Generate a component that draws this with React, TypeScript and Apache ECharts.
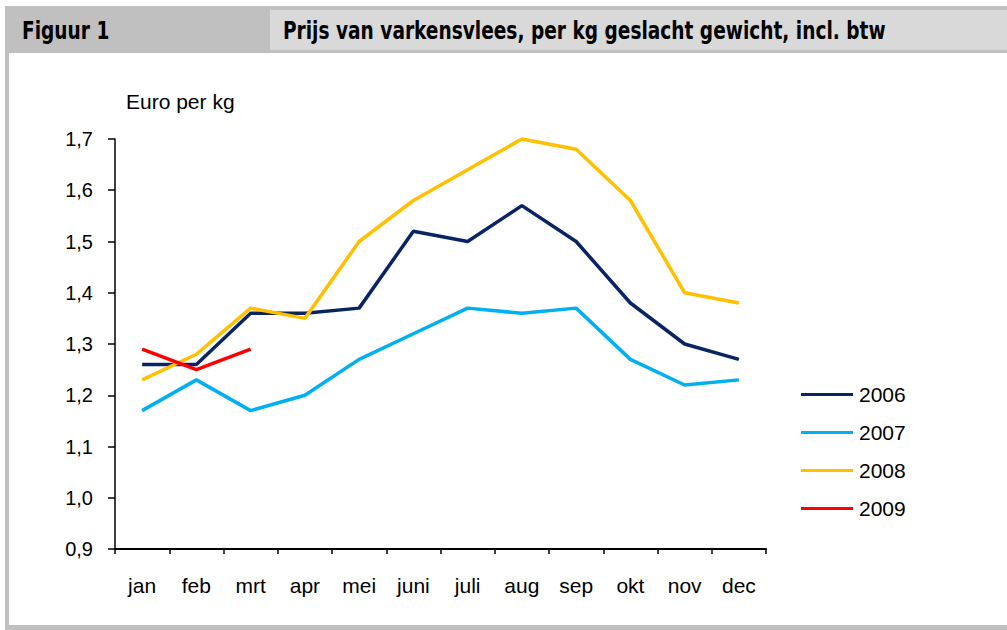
import React, { useEffect, useRef } from "react";
import * as echarts from "echarts";

const months = ["jan", "feb", "mrt", "apr", "mei", "juni", "juli", "aug", "sep", "okt", "nov", "dec"];
const s2006 = [1.26, 1.26, 1.36, 1.36, 1.37, 1.52, 1.50, 1.57, 1.50, 1.38, 1.30, 1.27];
const s2007 = [1.17, 1.23, 1.17, 1.20, 1.27, 1.32, 1.37, 1.36, 1.37, 1.27, 1.22, 1.23];
const s2008 = [1.23, 1.28, 1.37, 1.35, 1.50, 1.58, 1.64, 1.70, 1.68, 1.58, 1.40, 1.38];
const s2009 = [1.29, 1.25, 1.29];
const seriesNames = ["2006", "2007", "2008", "2009"];
const seriesColors = ["#0a2463", "#00b0f0", "#ffc000", "#ff0000"];
const figureLabel = "Figuur 1";
const titleText = "Prijs van varkensvlees, per kg geslacht gewicht, incl. btw";
const yAxisTitle = "Euro per kg";

export default function App() {
  const ref = useRef<HTMLDivElement>(null);
  useEffect(() => {
    if (!ref.current) return;
    document.documentElement.style.overflow = "hidden";
    document.body.style.overflow = "hidden";
    document.body.style.margin = "0";
    const chart = echarts.init(ref.current, null, { renderer: "svg" });
    const data = [s2006, s2007, s2008, s2009];
    const labelFont = "Liberation Sans, Arial, sans-serif";
    const headFont = "bold 24px 'DejaVu Sans Condensed', 'Liberation Sans Narrow', sans-serif";
    chart.setOption({
      animation: false,
      backgroundColor: "#ffffff",
      grid: { left: 115, right: 241, top: 139, bottom: 81, containLabel: false },
      graphic: [
        { type: "rect", shape: { x: 5, y: 6, width: 1010, height: 47 }, style: { fill: "#c0c0c0" }, z: -10 },
        { type: "rect", shape: { x: 5, y: 6, width: 4, height: 624 }, style: { fill: "#c0c0c0" }, z: -10 },
        { type: "rect", shape: { x: 5, y: 625, width: 1010, height: 5 }, style: { fill: "#c0c0c0" }, z: -10 },
        { type: "rect", shape: { x: 270, y: 10, width: 740, height: 40 }, style: { fill: "#d9d9d9" }, z: -8 },
        {
          type: "text", x: 22, y: 30, scaleX: 0.86,
          style: { text: figureLabel, font: headFont, fill: "#000", verticalAlign: "middle" },
        },
        {
          type: "text", x: 283, y: 30, scaleX: 0.86,
          style: { text: titleText, font: headFont, fill: "#000", verticalAlign: "middle" },
        },
        {
          type: "text", x: 126, y: 101,
          style: { text: yAxisTitle, font: "21px " + labelFont, fill: "#000", verticalAlign: "middle" },
        },
      ],
      legend: {
        orient: "vertical",
        left: 801,
        top: 384,
        padding: 0,
        itemWidth: 52,
        itemHeight: 3,
        itemGap: 17,
        icon: "rect",
        data: seriesNames,
        textStyle: { fontSize: 21, fontFamily: labelFont, color: "#000", padding: [0, 0, 0, 1] },
      },
      xAxis: {
        type: "category",
        data: months,
        boundaryGap: true,
        axisLine: { lineStyle: { color: "#000", width: 2 } },
        axisTick: { show: true, alignWithLabel: false, length: 5, lineStyle: { color: "#000", width: 1.5 } },
        axisLabel: { fontSize: 21, fontFamily: labelFont, color: "#000", margin: 26, interval: 0 },
        splitLine: { show: false },
      },
      yAxis: {
        type: "value",
        min: 0.9,
        max: 1.7,
        interval: 0.1,
        axisLine: { show: true, lineStyle: { color: "#000", width: 1.5 } },
        axisTick: { show: true, length: 7, lineStyle: { color: "#000", width: 1.5 } },
        axisLabel: {
          fontSize: 20, fontFamily: labelFont, color: "#000", margin: 22,
          formatter: (v: number) => v.toFixed(1).replace(".", ","),
        },
        splitLine: { show: false },
      },
      series: data.map((d, i) => ({
        name: seriesNames[i],
        type: "line",
        data: d,
        symbol: "none",
        lineStyle: { color: seriesColors[i], width: 3.5 },
        itemStyle: { color: seriesColors[i] },
      })),
    });
    return () => chart.dispose();
  }, []);
  return <div ref={ref} style={{ position: "fixed", left: 0, top: 0, width: 1007, height: 630, overflow: "hidden" }} />;
}
